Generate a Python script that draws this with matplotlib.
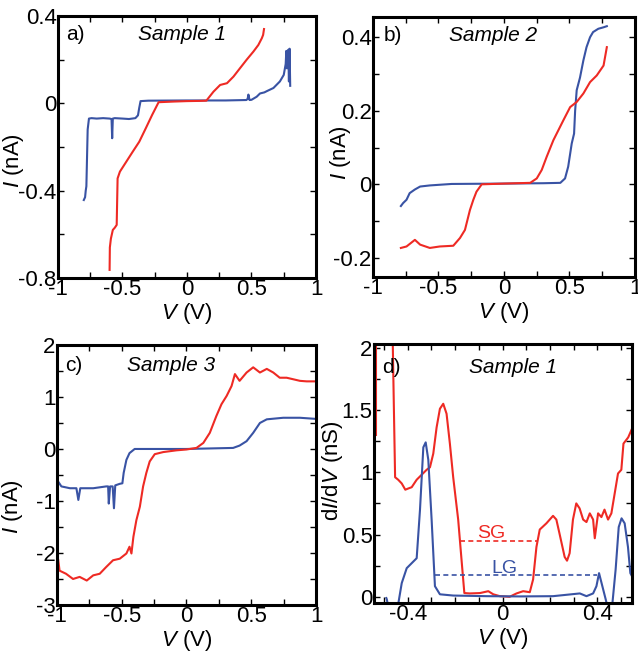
import numpy as np
import matplotlib
matplotlib.use('Agg')
import matplotlib.pyplot as plt
from matplotlib.ticker import MultipleLocator

plt.rcParams['font.family'] = ['Liberation Sans', 'DejaVu Sans']
plt.rcParams['mathtext.fontset'] = 'custom'
plt.rcParams['mathtext.rm'] = 'Liberation Sans'
plt.rcParams['mathtext.it'] = 'Liberation Sans:italic'
font_size = 16
text_size = 15
red = '#ee2a24'
blue = '#3953a4'

# panel a, sample 1
aBlueV = [-0.80, -0.79, -0.785, -0.78, -0.775, -0.77, -0.76, -0.74, -0.70, -0.65, -0.60, -0.585, -0.58, -0.575, -0.56, -0.50, -0.45, -0.40, -0.38, -0.37, -0.36, -0.30, 0.0, 0.30, 0.46, 0.47, 0.476, 0.485, 0.50, 0.54, 0.566, 0.60, 0.62, 0.67, 0.72, 0.75, 0.765, 0.77, 0.775, 0.78, 0.785, 0.79, 0.795, 0.80]
aBlueI = [-0.443, -0.43, -0.40, -0.38, -0.25, -0.12, -0.07, -0.068, -0.07, -0.068, -0.07, -0.072, -0.16, -0.07, -0.068, -0.07, -0.072, -0.068, -0.055, -0.02, 0.01, 0.012, 0.013, 0.013, 0.015, 0.02, 0.04, 0.015, 0.016, 0.03, 0.045, 0.05, 0.056, 0.07, 0.10, 0.13, 0.18, 0.24, 0.16, 0.23, 0.245, 0.10, 0.25, 0.08]
aRedV = [-0.60, -0.598, -0.59, -0.575, -0.56, -0.545, -0.538, -0.52, -0.47, -0.42, -0.37, -0.32, -0.27, -0.22, -0.10, 0.0, 0.10, 0.15, 0.205, 0.257, 0.31, 0.36, 0.41, 0.463, 0.515, 0.553, 0.58, 0.59, 0.597]
aRedI = [-0.763, -0.66, -0.62, -0.58, -0.57, -0.557, -0.344, -0.313, -0.267, -0.221, -0.176, -0.115, -0.053, 0.005, 0.008, 0.01, 0.011, 0.012, 0.053, 0.084, 0.092, 0.122, 0.16, 0.20, 0.237, 0.267, 0.298, 0.313, 0.34]

# panel b, sample 2
bBlueV = [-0.787, -0.77, -0.744, -0.72, -0.68, -0.64, -0.566, -0.40, 0.0, 0.30, 0.43, 0.466, 0.49, 0.517, 0.535, 0.543, 0.555, 0.58, 0.606, 0.63, 0.657, 0.68, 0.72, 0.76, 0.785]
bBlueI = [-0.059, -0.051, -0.042, -0.024, -0.014, -0.006, -0.003, 0.001, 0.002, 0.003, 0.004, 0.016, 0.048, 0.111, 0.138, 0.20, 0.256, 0.29, 0.337, 0.373, 0.40, 0.414, 0.423, 0.427, 0.43]
bRedV = [-0.787, -0.744, -0.68, -0.64, -0.566, -0.49, -0.387, -0.336, -0.298, -0.26, -0.234, -0.21, -0.17, 0.0, 0.20, 0.25, 0.288, 0.326, 0.377, 0.415, 0.453, 0.505, 0.555, 0.606, 0.657, 0.708, 0.76, 0.785]
bRedI = [-0.173, -0.169, -0.151, -0.164, -0.173, -0.169, -0.167, -0.146, -0.124, -0.07, -0.042, -0.02, 0.0, 0.002, 0.004, 0.016, 0.039, 0.075, 0.12, 0.147, 0.174, 0.21, 0.224, 0.247, 0.278, 0.296, 0.323, 0.373]

# panel c, sample 3
cBlueV = [-0.99, -0.966, -0.90, -0.85, -0.835, -0.82, -0.80, -0.72, -0.62, -0.605, -0.60, -0.59, -0.57, -0.56, -0.55, -0.515, -0.495, -0.485, -0.464, -0.44, -0.40, 0.0, 0.36, 0.41, 0.464, 0.515, 0.567, 0.62, 0.747, 0.876, 0.99]
cBlueI = [-0.63, -0.72, -0.755, -0.755, -0.98, -0.755, -0.755, -0.755, -0.72, -0.72, -1.05, -0.72, -0.72, -1.14, -0.70, -0.67, -0.66, -0.46, -0.21, -0.08, 0.0, 0.0, 0.02, 0.065, 0.15, 0.31, 0.50, 0.57, 0.60, 0.60, 0.58]
cRedV = [-0.99, -0.98, -0.93, -0.876, -0.825, -0.77, -0.72, -0.67, -0.62, -0.567, -0.515, -0.464, -0.44, -0.425, -0.41, -0.387, -0.36, -0.335, -0.31, -0.284, -0.245, -0.18, -0.077, 0.0, 0.077, 0.13, 0.18, 0.23, 0.27, 0.31, 0.348, 0.374, 0.41, 0.464, 0.515, 0.567, 0.62, 0.67, 0.72, 0.773, 0.825, 0.876, 0.928, 0.99]
cRedI = [-2.14, -2.34, -2.40, -2.50, -2.46, -2.53, -2.43, -2.40, -2.27, -2.14, -2.11, -2.01, -1.88, -2.01, -1.69, -1.37, -1.11, -0.72, -0.46, -0.24, -0.10, -0.06, -0.026, -0.01, 0.02, 0.116, 0.31, 0.63, 0.86, 1.02, 1.21, 1.44, 1.31, 1.47, 1.57, 1.47, 1.54, 1.47, 1.37, 1.37, 1.34, 1.31, 1.30, 1.30]

# panel d, sample 1 dI/dV
dRedV1 = [-0.533, -0.533]
dRedG1 = [2.05, 1.30]
dRedV = [-0.463, -0.458, -0.453, -0.44, -0.425, -0.41, -0.397, -0.383, -0.362, -0.341, -0.32, -0.306, -0.292, -0.278, -0.264, -0.25, -0.236, -0.222, -0.208, -0.187, -0.173, -0.161, -0.138, -0.095, -0.06, -0.039, -0.011, 0.03, 0.059, 0.087, 0.115, 0.129, 0.143, 0.157, 0.185, 0.213, 0.227, 0.24, 0.262, 0.272, 0.283, 0.297, 0.311, 0.325, 0.34, 0.354, 0.368, 0.382, 0.389, 0.403, 0.417, 0.43, 0.445, 0.459, 0.473, 0.487, 0.501, 0.51, 0.53, 0.546]
dRedG = [2.05, 1.5, 0.96, 0.94, 0.91, 0.86, 0.87, 0.88, 0.94, 0.98, 1.02, 1.04, 1.15, 1.36, 1.51, 1.55, 1.47, 1.23, 0.96, 0.62, 0.30, 0.03, 0.027, 0.03, 0.045, 0.02, 0.005, 0.0, 0.027, 0.045, 0.037, 0.14, 0.40, 0.54, 0.59, 0.65, 0.62, 0.51, 0.32, 0.29, 0.35, 0.62, 0.75, 0.71, 0.62, 0.60, 0.67, 0.62, 0.47, 0.67, 0.64, 0.70, 0.62, 0.67, 0.83, 0.99, 1.02, 1.23, 1.28, 1.35]
dBlueV1 = [-0.49, -0.488, -0.484]
dBlueG1 = [-0.01, -0.02, -0.06]
dBlueV = [-0.44, -0.425, -0.404, -0.383, -0.362, -0.348, -0.334, -0.324, -0.313, -0.299, -0.285, -0.264, -0.208, -0.067, 0.073, 0.213, 0.326, 0.354, 0.382, 0.396, 0.407, 0.421, 0.435, 0.44]
dBlueG = [-0.06, 0.11, 0.23, 0.27, 0.31, 0.70, 1.20, 1.24, 1.10, 0.62, 0.085, 0.02, 0.01, 0.005, 0.003, 0.005, 0.027, 0.005, 0.027, 0.085, 0.19, 0.085, -0.02, -0.06]
dBlueV2 = [0.463, 0.477, 0.49, 0.502, 0.515, 0.529, 0.539, 0.546]
dBlueG2 = [-0.06, 0.22, 0.56, 0.63, 0.59, 0.40, 0.19, 0.165]
sgLevel = 0.452
sgRange = [-0.18, 0.15]
lgLevel = 0.173
lgRange = [-0.285, 0.40]

fig = plt.figure(figsize=(6.38, 6.51), dpi=100)
plt.rcParams['font.size'] = font_size

def styleAx(ax, xmaj, xmin, ymaj, ymin):
    ax.xaxis.set_major_locator(MultipleLocator(xmaj))
    ax.xaxis.set_minor_locator(MultipleLocator(xmin))
    ax.yaxis.set_major_locator(MultipleLocator(ymaj))
    ax.yaxis.set_minor_locator(MultipleLocator(ymin))
    ax.tick_params(which='both', direction='in', top=True, right=True, length=4, width=1, labelsize=font_size, pad=1)
    for s in ax.spines.values():
        s.set_linewidth(2.2)
    ax.set_xlabel(r'$V$ (V)', fontsize=font_size, labelpad=0.5)

def fmt(v, pos):
    return '%g' % round(v, 3)

axA = fig.add_axes([0.0909, 0.573, 0.4044, 0.4025])
axA.plot(aBlueV, aBlueI, color=blue, lw=1.5)
axA.plot(aRedV, aRedI, color=red, lw=1.5)
axA.set_xlim(-1, 1)
axA.set_ylim(-0.8, 0.4)
styleAx(axA, 0.5, 0.25, 0.4, 0.2)
axA.set_ylabel(r'$I$ (nA)', fontsize=font_size)
axA.yaxis.set_label_coords(-0.125, 0.45)
axA.text(0.03, 0.93, 'a)', transform=axA.transAxes, fontsize=text_size, va='center')
axA.text(0.48, 0.93, 'Sample 1', transform=axA.transAxes, fontsize=text_size, style='italic', ha='center', va='center')

axB = fig.add_axes([0.5846, 0.5745, 0.4107, 0.3994])
axB.plot(bBlueV, bBlueI, color=blue, lw=1.5)
axB.plot(bRedV, bRedI, color=red, lw=1.5)
axB.set_xlim(-1, 1)
axB.set_ylim(-0.252, 0.455)
styleAx(axB, 0.5, 0.25, 0.2, 0.1)
axB.set_ylabel(r'$I$ (nA)', fontsize=font_size)
axB.yaxis.set_label_coords(-0.076, 0.477)
axB.text(0.04, 0.93, 'b)', transform=axB.transAxes, fontsize=text_size, va='center')
axB.text(0.46, 0.93, 'Sample 2', transform=axB.transAxes, fontsize=text_size, style='italic', ha='center', va='center')

axC = fig.add_axes([0.0893, 0.0707, 0.406, 0.3994])
axC.plot(cBlueV, cBlueI, color=blue, lw=1.5)
axC.plot(cRedV, cRedI, color=red, lw=1.5)
axC.set_xlim(-1, 1)
axC.set_ylim(-3, 2)
styleAx(axC, 0.5, 0.25, 1, 0.5)
axC.set_ylabel(r'$I$ (nA)', fontsize=font_size)
axC.yaxis.set_label_coords(-0.122, 0.377)
axC.text(0.03, 0.92, 'c)', transform=axC.transAxes, fontsize=text_size, va='center')
axC.text(0.44, 0.92, 'Sample 3', transform=axC.transAxes, fontsize=text_size, style='italic', ha='center', va='center')

axD = fig.add_axes([0.5862, 0.0737, 0.4044, 0.3979])
axD.plot(dRedV1, dRedG1, color=red, lw=1.5)
axD.plot(dRedV, dRedG, color=red, lw=1.5)
axD.plot(dBlueV1, dBlueG1, color=blue, lw=1.5)
axD.plot(dBlueV, dBlueG, color=blue, lw=1.5)
axD.plot(dBlueV2, dBlueG2, color=blue, lw=1.5)
axD.hlines(sgLevel, sgRange[0], sgRange[1], colors=red, linestyles=(0, (3, 2)), lw=1.2)
axD.hlines(lgLevel, lgRange[0], lgRange[1], colors=blue, linestyles=(0, (3, 2)), lw=1.2)
axD.text(-0.046, 0.51, 'SG', color=red, fontsize=text_size - 1, ha='center', va='center')
axD.text(0.01, 0.23, 'LG', color=blue, fontsize=text_size - 1, ha='center', va='center')
axD.set_xlim(-0.542, 0.546)
axD.set_ylim(-0.05, 2.03)
styleAx(axD, 0.4, 0.1, 0.5, 0.25)
axD.set_ylabel(r'd$I$/d$V$ (nS)', fontsize=font_size)
axD.yaxis.set_label_coords(-0.112, 0.51)
axD.text(0.03, 0.91, 'd)', transform=axD.transAxes, fontsize=text_size, va='center')
axD.text(0.54, 0.91, 'Sample 1', transform=axD.transAxes, fontsize=text_size, style='italic', ha='center', va='center')

for ax in [axA, axB, axC, axD]:
    ax.xaxis.set_major_formatter(plt.FuncFormatter(fmt))
    ax.yaxis.set_major_formatter(plt.FuncFormatter(fmt))

fig.savefig('out.png', dpi=100)
